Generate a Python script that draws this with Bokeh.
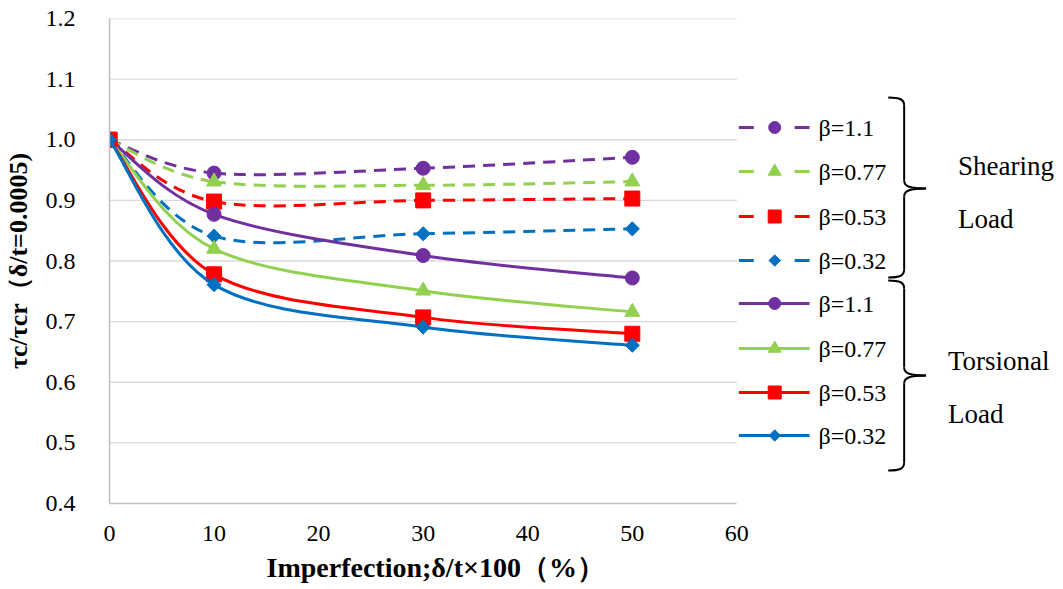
import numpy as np
from bokeh.plotting import figure
from bokeh.models import Range1d, FixedTicker, PrintfTickFormatter, Label, Title
from bokeh.embed import file_html
from bokeh.resources import INLINE

# ---------------- data ----------------
x_vals = [0, 10, 30, 50]
shear_b11 = [1.0, 0.945, 0.953, 0.971]
shear_b077 = [1.0, 0.931, 0.925, 0.931]
shear_b053 = [1.0, 0.898, 0.900, 0.903]
shear_b032 = [1.0, 0.841, 0.845, 0.853]
tors_b11 = [1.0, 0.877, 0.809, 0.772]
tors_b077 = [1.0, 0.820, 0.751, 0.716]
tors_b053 = [1.0, 0.778, 0.707, 0.680]
tors_b032 = [1.0, 0.761, 0.691, 0.661]
beta_labels = ["β=1.1", "β=0.77", "β=0.53", "β=0.32"]
x_ticks = [0, 10, 20, 30, 40, 50, 60]
y_ticks = [0.4, 0.5, 0.6, 0.7, 0.8, 0.9, 1.0, 1.1, 1.2]
group_labels = [["Shearing", "Load"], ["Torsional", "Load"]]
x_title = "Imperfection;δ/t×100（%）"
y_title = "τc/τcr（δ/t=0.0005)"

# ---------------- styles ----------------
colors = ["#7030A0", "#92D050", "#FF0000", "#0070C0"]
markers = ["circle", "triangle", "square", "square"]
marker_sizes = [14, 15, 15, 10]
marker_angles = [0, 0, 0, np.pi / 4]
FONT = "Liberation Serif"

# layout (figure pixel coords)
W, H = 1063, 589
FL, FT, FR, FB = 105, 18, 1060, 503
px_per_x = 10.5

p = figure(width=W, height=H, output_backend="svg", toolbar_location=None,
           x_range=Range1d(0, (FR - FL) / px_per_x), y_range=Range1d(y_ticks[0], y_ticks[-1]),
           min_border_left=FL, min_border_right=W - FR, min_border_top=FT,
           min_border_bottom=H - FB, background_fill_color="white",
           border_fill_color="white", outline_line_color=None)
p.extra_x_ranges = {"px": Range1d(FL, FR)}
p.extra_y_ranges = {"py": Range1d(FB, FT)}

p.xgrid.visible = False
p.ygrid.visible = False

# gridlines limited to the x-axis extent
p.segment(x0=[x_ticks[0]] * (len(y_ticks) - 1), x1=[x_ticks[-1]] * (len(y_ticks) - 1),
          y0=y_ticks[1:], y1=y_ticks[1:], line_color="#D9D9D9", line_width=1.3, level="underlay")

for axes in (p.xaxis, p.yaxis):
    axes.axis_line_color = "#BFBFBF"
    axes.axis_line_width = 1.5
    axes.major_tick_line_color = None
    axes.minor_tick_line_color = None
    axes.major_label_text_font = FONT
    axes.major_label_text_font_size = "24px"
    axes.major_label_text_color = "#000000"

p.xaxis.ticker = FixedTicker(ticks=x_ticks)
p.xaxis.formatter = PrintfTickFormatter(format="%d")
p.xaxis.bounds = (x_ticks[0], x_ticks[-1])
p.xaxis.major_label_standoff = 16
p.yaxis.ticker = FixedTicker(ticks=y_ticks)
p.yaxis.formatter = PrintfTickFormatter(format="%.1f")
p.yaxis.major_label_standoff = 28
p.yaxis.axis_label = y_title
p.yaxis.axis_label_text_font = FONT
p.yaxis.axis_label_text_font_size = "26px"
p.yaxis.axis_label_text_font_style = "bold"
p.yaxis.axis_label_text_color = "#000000"
p.yaxis.axis_label_standoff = 10

p.add_layout(Title(text=x_title, align="left", offset=157, standoff=12,
                   text_font=FONT, text_font_size="28px", text_font_style="bold",
                   text_color="#000000"), "below")


def smooth_segments(xs, ys):
    n = len(xs)
    out = {k: [] for k in ("x0", "y0", "x1", "y1", "cx0", "cy0", "cx1", "cy1")}
    for i in range(n - 1):
        i0 = max(i - 1, 0)
        i3 = min(i + 2, n - 1)
        out["x0"].append(xs[i]); out["y0"].append(ys[i])
        out["x1"].append(xs[i + 1]); out["y1"].append(ys[i + 1])
        out["cx0"].append(xs[i] + (xs[i + 1] - xs[i0]) / 6)
        out["cy0"].append(ys[i] + (ys[i + 1] - ys[i0]) / 6)
        out["cx1"].append(xs[i + 1] - (xs[i3] - xs[i]) / 6)
        out["cy1"].append(ys[i + 1] - (ys[i3] - ys[i]) / 6)
    return out


series = [(shear_b11, 0, True), (shear_b077, 1, True), (shear_b053, 2, True), (shear_b032, 3, True),
          (tors_b11, 0, False), (tors_b077, 1, False), (tors_b053, 2, False), (tors_b032, 3, False)]

for ys, k, dashed in series:
    seg = smooth_segments(x_vals, ys)
    p.bezier(**seg, line_color=colors[k], line_width=3,
             line_dash="12 8" if dashed else "solid")
    p.scatter(x=x_vals, y=ys, marker=markers[k], size=marker_sizes[k], angle=marker_angles[k],
              fill_color=colors[k], line_color=colors[k])

# ---------------- legend (pixel space) ----------------
row_y = [127, 171, 216, 260, 303, 348, 392, 435]
lx0, lx1, lmx, ltx = 737, 808, 773, 817
for r, (ys, k, dashed) in enumerate(series):
    y = row_y[r]
    if dashed:
        p.segment(x0=[lx0, lmx + 20], x1=[lmx - 21, lx1], y0=[y, y], y1=[y, y],
                  line_color=colors[k], line_width=3, x_range_name="px", y_range_name="py")
    else:
        p.segment(x0=[lx0], x1=[lx1], y0=[y], y1=[y], line_color=colors[k], line_width=3,
                  x_range_name="px", y_range_name="py")
    p.scatter(x=[lmx], y=[y], marker=markers[k], size=marker_sizes[k] - 2, angle=marker_angles[k],
              fill_color=colors[k], line_color=colors[k], x_range_name="px", y_range_name="py")
    p.add_layout(Label(x=ltx, y=y, text=beta_labels[r % 4], x_range_name="px", y_range_name="py",
                       text_font=FONT, text_font_size="24px", text_baseline="middle",
                       text_align="left", text_color="#000000"))


def brace(xv, t, b, m, hw=16, tip=22, r=8):
    segs = dict(x0=[], y0=[], x1=[], y1=[], cx0=[], cy0=[], cx1=[], cy1=[])
    def add(a, c0, c1, e):
        segs["x0"].append(a[0]); segs["y0"].append(a[1])
        segs["cx0"].append(c0[0]); segs["cy0"].append(c0[1])
        segs["cx1"].append(c1[0]); segs["cy1"].append(c1[1])
        segs["x1"].append(e[0]); segs["y1"].append(e[1])
    add((xv - hw, t), (xv - 4, t), (xv, t + 2), (xv, t + r))
    add((xv, t + r), (xv, t + r), (xv, m - r), (xv, m - r))
    add((xv, m - r), (xv, m - 2), (xv + 6, m), (xv + tip, m))
    add((xv + tip, m), (xv + 6, m), (xv, m + 2), (xv, m + r))
    add((xv, m + r), (xv, m + r), (xv, b - r), (xv, b - r))
    add((xv, b - r), (xv, b - 2), (xv - 4, b), (xv - hw, b))
    return segs


for (t, b, m) in [(97, 277, 188), (280, 470, 375)]:
    p.bezier(**brace(903, t, b, m), line_color="black", line_width=2,
             x_range_name="px", y_range_name="py")

group_pos = [[(957, 165), (957, 218)], [(947, 360), (947, 413)]]
for g in range(2):
    for j in range(2):
        gx, gy = group_pos[g][j]
        p.add_layout(Label(x=gx, y=gy, text=group_labels[g][j], x_range_name="px", y_range_name="py",
                           text_font=FONT, text_font_size="27px", text_baseline="middle",
                           text_align="left", text_color="#000000"))

open("out.html", "w").write(file_html(p, INLINE))
